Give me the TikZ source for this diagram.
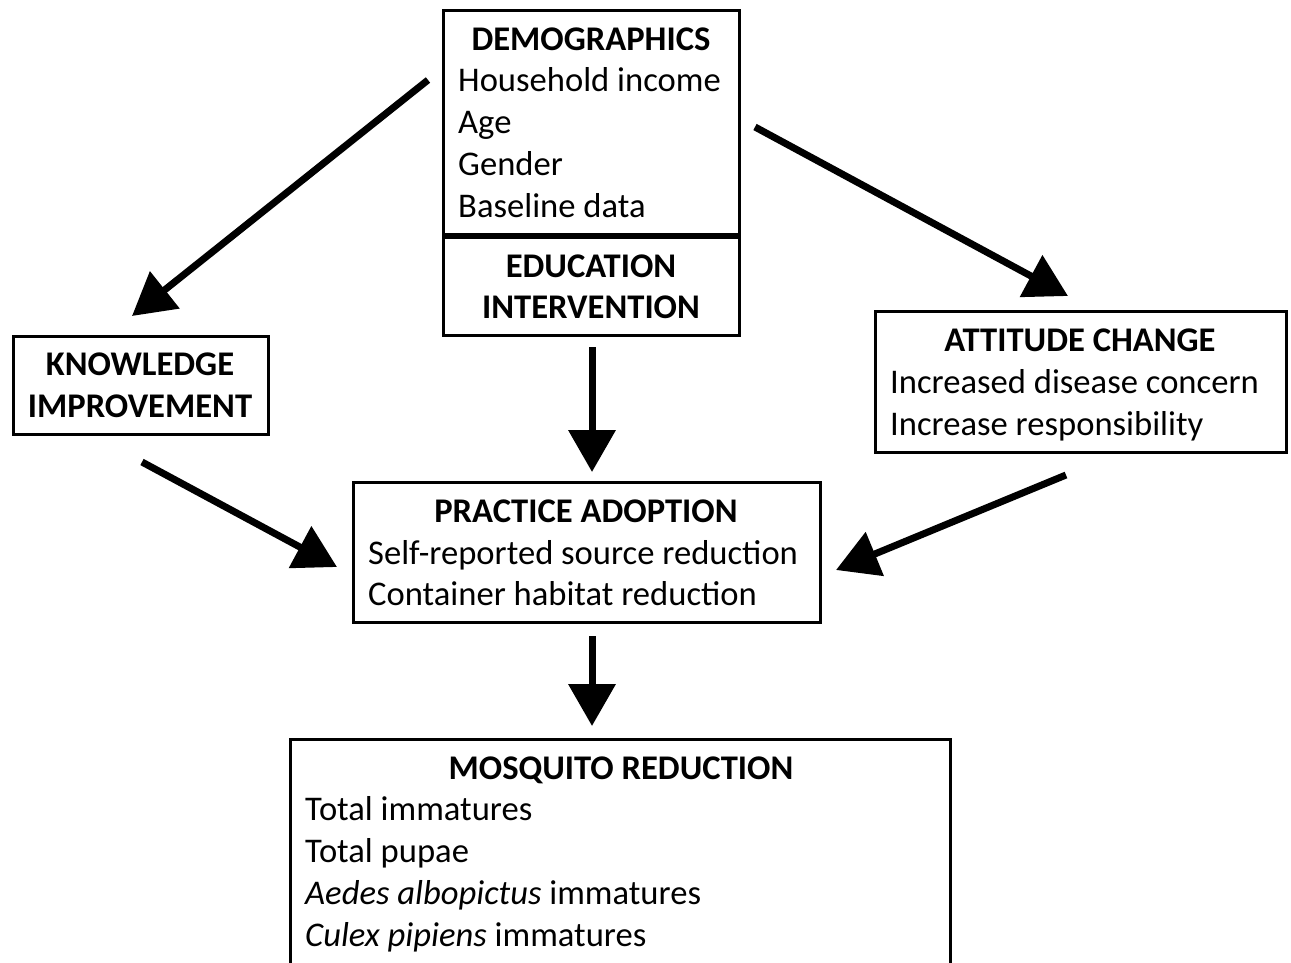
\documentclass[tikz,border=0pt]{standalone}
\usepackage{fontspec}
\setmainfont{Carlito}
\usetikzlibrary{arrows.meta}
\begin{document}
\begin{tikzpicture}[x=1pt,y=-1pt,
  box/.style={draw=black,line width=3pt,fill=white,inner sep=0pt},
  ttl/.style={font=\fontsize{34.6}{42}\selectfont\bfseries,anchor=base,inner sep=0pt},
  txt/.style={font=\fontsize{34.6}{42}\selectfont,anchor=base west,inner sep=0pt},
  arr/.style={line width=7pt,-{Triangle[length=42pt,width=46pt]}}]
\useasboundingbox (0,0) rectangle (1291,962);
\clip (0,0) rectangle (1291,962);
% boxes
\node[box,minimum width=296pt,minimum height=224pt] (demo) at (591,122) {};
\node[box,minimum width=296pt,minimum height=98pt] (edu) at (591,286) {};
\node[box,minimum width=255pt,minimum height=98pt] (know) at (140.5,385) {};
\node[box,minimum width=411pt,minimum height=141pt] (att) at (1080.5,381.5) {};
\node[box,minimum width=467pt,minimum height=140pt] (prac) at (586.5,552) {};
\node[box,minimum width=660pt,minimum height=241pt] (mosq) at (620,859.5) {};
% texts
\node[ttl] (demoT) at (591,50) {DEMOGRAPHICS};
\node[txt] (demo1) at (458,91) {Household income};
\node[txt] (demo2) at (458,133) {Age};
\node[txt] (demo3) at (458,175) {Gender};
\node[txt] (demo4) at (458,217) {Baseline data};
\node[ttl] (eduT1) at (591,277) {EDUCATION};
\node[ttl] (eduT2) at (591,318) {INTERVENTION};
\node[ttl] (knowT1) at (140,375) {KNOWLEDGE};
\node[ttl] (knowT2) at (140,417) {IMPROVEMENT};
\node[ttl] (attT) at (1080,351) {ATTITUDE CHANGE};
\node[txt] (att1) at (890,393) {Increased disease concern};
\node[txt] (att2) at (890,435) {Increase responsibility};
\node[ttl] (pracT) at (586,522) {PRACTICE ADOPTION};
\node[txt] (prac1) at (368,564) {Self-reported source reduction};
\node[txt] (prac2) at (368,605) {Container habitat reduction};
\node[ttl] (mosqT) at (621,779) {MOSQUITO REDUCTION};
\node[txt] (mosq1) at (305,820) {Total immatures};
\node[txt] (mosq2) at (305,862) {Total pupae};
\node[txt] (mosq3) at (305,904) {\textit{Aedes albopictus} immatures};
\node[txt] (mosq4) at (305,946) {\textit{Culex pipiens} immatures};
% connector ends
\coordinate (a1s) at (428,80);   \coordinate (a1e) at (132,316);
\coordinate (a2s) at (755,127);  \coordinate (a2e) at (1068,296);
\coordinate (a3s) at (592,347);  \coordinate (a3e) at (592,472);
\coordinate (a4s) at (142,462);  \coordinate (a4e) at (337,567);
\coordinate (a5s) at (1066,475); \coordinate (a5e) at (836,570);
\coordinate (a6s) at (592,636);  \coordinate (a6e) at (592,726);
\draw[arr] (a1s) -- (a1e);
\draw[arr] (a2s) -- (a2e);
\draw[arr] (a3s) -- (a3e);
\draw[arr] (a4s) -- (a4e);
\draw[arr] (a5s) -- (a5e);
\draw[arr] (a6s) -- (a6e);
\end{tikzpicture}
\end{document}
